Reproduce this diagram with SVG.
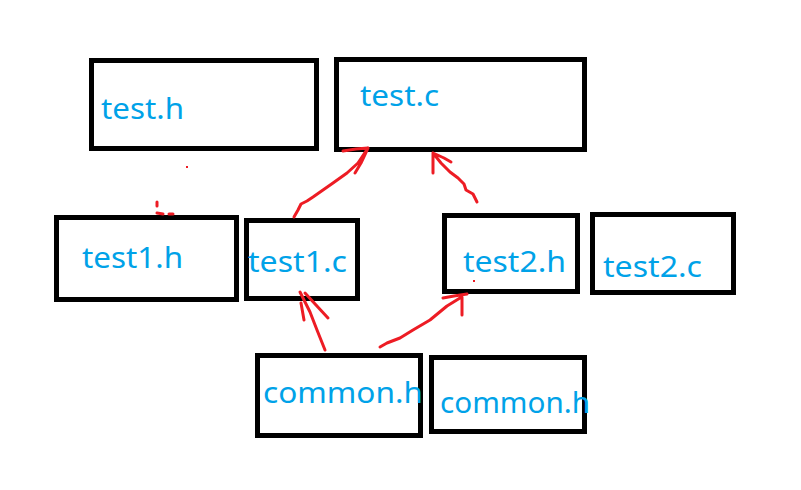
<svg xmlns="http://www.w3.org/2000/svg" width="801" height="490" viewBox="0 0 801 490">
<style>
.box{fill:none;stroke:#000;stroke-width:5}
.lbl{font-family:"Noto Sans","Open Sans",sans-serif;font-size:29px;fill:#00a2e8}
.pen{fill:none;stroke:#ed1c24;stroke-width:3;stroke-linecap:round;stroke-linejoin:round}
</style>
<rect width="801" height="490" fill="#fff"/>
<g id="test_h"><rect class="box" x="91.5" y="60.5" width="225" height="88"/><text class="lbl" x="101" y="119" textLength="83" lengthAdjust="spacingAndGlyphs">test.h</text></g>
<g id="test_c"><rect class="box" x="336.5" y="59.5" width="248" height="90"/><text class="lbl" x="360" y="106" textLength="79" lengthAdjust="spacingAndGlyphs">test.c</text></g>
<g id="test1_h"><rect class="box" x="56.5" y="217.5" width="180" height="82"/><text class="lbl" x="82" y="268" textLength="101" lengthAdjust="spacingAndGlyphs">test1.h</text></g>
<g id="test1_c"><rect class="box" x="246.5" y="220.5" width="111" height="78"/><text class="lbl" x="248" y="272" textLength="99" lengthAdjust="spacingAndGlyphs">test1.c</text></g>
<g id="test2_h"><rect class="box" x="444.5" y="215.5" width="133" height="76"/><text class="lbl" x="463" y="272" textLength="103" lengthAdjust="spacingAndGlyphs">test2.h</text></g>
<g id="test2_c"><rect class="box" x="592.5" y="214.5" width="141" height="78"/><text class="lbl" x="603" y="277" textLength="99" lengthAdjust="spacingAndGlyphs">test2.c</text></g>
<g id="common_h_1"><rect class="box" x="257.5" y="355.5" width="163" height="80"/><text class="lbl" x="263" y="403" textLength="160" lengthAdjust="spacingAndGlyphs">common.h</text></g>
<g id="common_h_2"><rect class="box" x="431.5" y="357.5" width="153" height="74"/><text class="lbl" x="440" y="413" textLength="150" lengthAdjust="spacingAndGlyphs">common.h</text></g>
<g id="connectors">
<path class="pen" d="M294,217 L298,210 L301,204 L307,201 L313,197 L323,190 L333,183 L347,173 L358,163 L368,148 M343,151 L356,149 L368,148 M355,173 L361,163 L368,148"/>
<path class="pen" d="M477,202 L473,194 L466,190 L464,184 L458,178 L450,172 L441,163 L433,153 M433,153 L433,173 M433,153 L444,158 L451,162"/>
<path class="pen" d="M325,350 L317,330 L310,312 L300,292 M305,293 L316,305 L328,318 M301,303 L304,320"/>
<path class="pen" d="M380,347 L387,343 L400,338 L413,330 L430,320 L447,306 L460,298 M443,298 L454,296 L467,294 M462,297 L462,315"/>
<path class="pen" d="M157,202 L157,206 M157,213 L163,214 M169,214 L173,214" stroke-width="2"/>
<rect x="186" y="166" width="2" height="2" fill="#ed1c24"/>
<rect x="473" y="280" width="2" height="2" fill="#ed1c24"/>
</g>
</svg>
